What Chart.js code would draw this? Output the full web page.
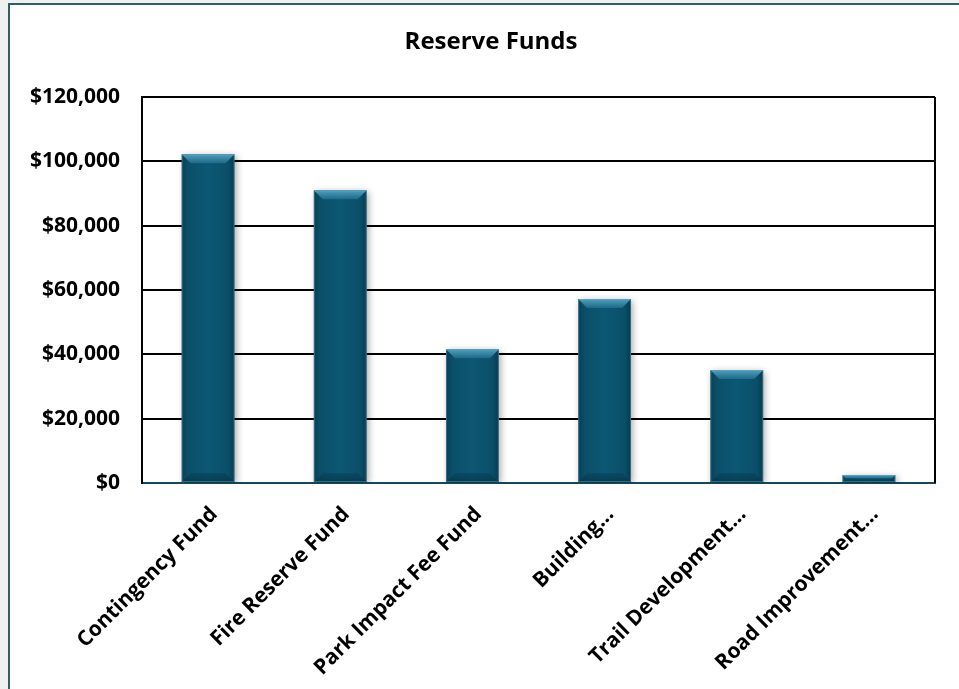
<!DOCTYPE html>
<html>
<head>
<meta charset="utf-8">
<title>Reserve Funds</title>
<script src="https://cdn.jsdelivr.net/npm/chart.js@4.4.1/dist/chart.umd.min.js"></script>
<style>
    html, body {
        margin: 0;
        padding: 0;
        background: #f0f0f0;
        overflow: hidden;
    }
    #frame {
        position: absolute;
        left: 8px;
        top: 3px;
        width: 1000px;
        height: 800px;
        background: #ffffff;
        border: 2px solid #2f5d6c;
        box-sizing: border-box;
    }
    #wrap {
        position: absolute;
        left: 0;
        top: 0;
        width: 959px;
        height: 689px;
    }
</style>
</head>
<body>
<div id="frame"></div>
<div id="wrap"><canvas id="fundsChart"></canvas></div>
<script>
const funds = ['Contingency Fund', 'Fire Reserve Fund', 'Park Impact Fee Fund', 'Building…', 'Trail Development…', 'Road Improvement…'];
const balances = [102200, 91000, 41600, 57200, 35100, 2500];
const yTicks = [0, 20000, 40000, 60000, 80000, 100000, 120000];
const chartTitle = 'Reserve Funds';

const labelFont = { family: "'Open Sans', sans-serif", size: 21, weight: 'bold' };
const barPct = 0.4;

// horizontal shading across each bar, darker toward the edges
function barGradient(context) {
    const chart = context.chart;
    const x = chart.scales.x;
    if (!chart.chartArea || !x) return '#0b536e';
    const cx = x.getPixelForValue(context.dataIndex);
    const half = (chart.chartArea.width / funds.length) * barPct / 2;
    const g = chart.ctx.createLinearGradient(cx - half, 0, cx + half, 0);
    g.addColorStop(0, '#083f55');
    g.addColorStop(0.12, '#0a4f69');
    g.addColorStop(0.5, '#0c5774');
    g.addColorStop(0.88, '#0a4f69');
    g.addColorStop(1, '#073a4f');
    return g;
}

// soft drop shadow under the bars
const barShadow = {
    id: 'barShadow',
    beforeDatasetDraw(chart) {
        const ctx = chart.ctx;
        ctx.save();
        ctx.shadowColor = 'rgba(0, 0, 0, 0.35)';
        ctx.shadowBlur = 7;
        ctx.shadowOffsetX = 2;
        ctx.shadowOffsetY = 2;
    },
    afterDatasetDraw(chart) {
        chart.ctx.restore();
    }
};

// bevelled top and bottom edges on each bar
const barBevel = {
    id: 'barBevel',
    afterDatasetsDraw(chart) {
        const ctx = chart.ctx;
        chart.getDatasetMeta(0).data.forEach((bar) => {
            const left = bar.x - bar.width / 2;
            const right = bar.x + bar.width / 2;
            const top = bar.y;
            const bottom = bar.base;
            const d = Math.min(9, (bottom - top) / 2);

            ctx.save();
            let g = ctx.createLinearGradient(0, top, 0, top + d);
            g.addColorStop(0, '#519fbc');
            g.addColorStop(1, '#1d6a88');
            ctx.fillStyle = g;
            ctx.beginPath();
            ctx.moveTo(left, top);
            ctx.lineTo(right, top);
            ctx.lineTo(right - d, top + d);
            ctx.lineTo(left + d, top + d);
            ctx.closePath();
            ctx.fill();

            g = ctx.createLinearGradient(0, bottom - d, 0, bottom);
            g.addColorStop(0, 'rgba(8, 68, 92, 0.6)');
            g.addColorStop(1, 'rgba(6, 52, 72, 0.8)');
            ctx.fillStyle = g;
            ctx.beginPath();
            ctx.moveTo(left + d, bottom - d);
            ctx.lineTo(right - d, bottom - d);
            ctx.lineTo(right, bottom);
            ctx.lineTo(left, bottom);
            ctx.closePath();
            ctx.fill();

            ctx.strokeStyle = 'rgba(110, 170, 195, 0.45)';
            ctx.lineWidth = 1;
            ctx.strokeRect(left + 0.5, top + 0.5, bar.width - 1, bottom - top - 1);
            ctx.restore();
        });
    }
};

// right-hand edge of the plot box
const plotEdge = {
    id: 'plotEdge',
    beforeDatasetsDraw(chart) {
        const a = chart.chartArea;
        const ctx = chart.ctx;
        ctx.save();
        ctx.strokeStyle = '#000000';
        ctx.lineWidth = 2;
        ctx.beginPath();
        ctx.moveTo(a.right, a.top);
        ctx.lineTo(a.right, a.bottom);
        ctx.stroke();
        ctx.restore();
    }
};

// chart heading, centred a little left of the plot box
const heading = {
    id: 'heading',
    afterDraw(chart) {
        const ctx = chart.ctx;
        ctx.save();
        ctx.font = "bold 24px 'Open Sans', sans-serif";
        ctx.fillStyle = '#000000';
        ctx.textAlign = 'center';
        ctx.textBaseline = 'middle';
        ctx.fillText(chartTitle, 491, 42);
        ctx.restore();
    }
};

const ctx = document.getElementById('fundsChart').getContext('2d');
new Chart(ctx, {
    type: 'bar',
    data: {
        labels: funds,
        datasets: [{
            label: chartTitle,
            data: balances,
            backgroundColor: barGradient,
            borderWidth: 0,
            categoryPercentage: 1,
            barPercentage: barPct
        }]
    },
    options: {
        responsive: true,
        maintainAspectRatio: false,
        animation: false,
        layout: {
            padding: { top: 97, right: 24, bottom: 0, left: 0 }
        },
        scales: {
            x: {
                grid: { display: false, drawTicks: false },
                border: { display: true, color: '#16485b', width: 2 },
                ticks: {
                    color: '#000000',
                    font: labelFont,
                    padding: 19,
                    labelOffset: 6,
                    minRotation: 45,
                    maxRotation: 45,
                    autoSkip: false
                },
                afterFit(scale) {
                    scale.height = 206;
                }
            },
            y: {
                min: 0,
                max: 120000,
                afterBuildTicks(scale) {
                    scale.ticks = yTicks.map((v) => ({ value: v }));
                },
                grid: {
                    drawTicks: false,
                    lineWidth: 2,
                    color: (c) => (c.tick && c.tick.value === 0 ? '#16485b' : '#000000')
                },
                border: { display: true, color: '#000000', width: 2 },
                ticks: {
                    color: '#000000',
                    font: labelFont,
                    padding: 22,
                    callback: (v) => '$' + v.toLocaleString('en-US')
                },
                afterFit(scale) {
                    scale.width = 142;
                }
            }
        },
        plugins: {
            legend: { display: false },
            tooltip: { enabled: false },
            title: { display: false }
        }
    },
    plugins: [barShadow, barBevel, plotEdge, heading]
});
</script>
</body>
</html>
